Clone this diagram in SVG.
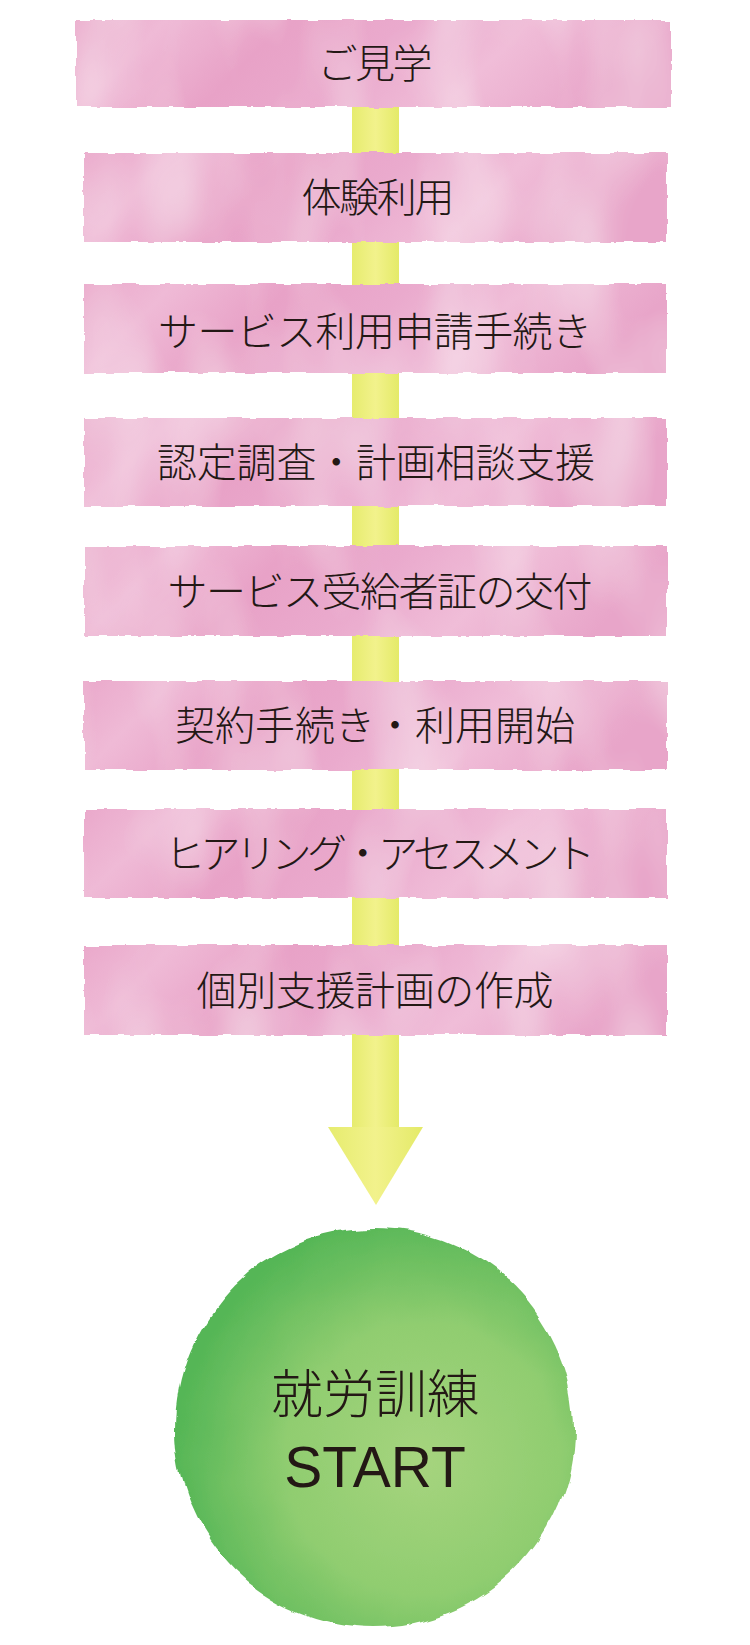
<svg xmlns="http://www.w3.org/2000/svg" width="750" height="1645" viewBox="0 0 750 1645">
<style>
.lbl{font-family:"Noto Sans CJK JP","Noto Sans",sans-serif;font-size:40px;font-weight:300;fill:#231815;text-anchor:middle}
.big{font-family:"Noto Sans CJK JP","Liberation Sans",sans-serif;font-weight:300;fill:#231815;text-anchor:middle}
.ban{fill:url(#pink)}
</style>
<defs>
<linearGradient id="pink" x1="0" y1="0" x2="1" y2="0.15">
<stop offset="0" stop-color="#eaa9cb"/>
<stop offset="0.15" stop-color="#efbad6"/>
<stop offset="0.35" stop-color="#e8a2c7"/>
<stop offset="0.55" stop-color="#eaaacd"/>
<stop offset="0.75" stop-color="#f0bdd8"/>
<stop offset="1" stop-color="#e8a5c9"/>
</linearGradient>
<linearGradient id="yel" x1="0" y1="0" x2="1" y2="0">
<stop offset="0" stop-color="#e6ec6e"/>
<stop offset="0.5" stop-color="#f2f28c"/>
<stop offset="1" stop-color="#e4ea68"/>
</linearGradient>
<radialGradient id="grn" cx="0.62" cy="0.58" r="0.62">
<stop offset="0" stop-color="#a6d47e"/>
<stop offset="0.55" stop-color="#90cd70"/>
<stop offset="1" stop-color="#55b656"/>
</radialGradient>
<filter id="rough" x="-5%" y="-20%" width="110%" height="140%">
<feTurbulence type="fractalNoise" baseFrequency="0.05" numOctaves="3" seed="3" result="n"/>
<feDisplacementMap in="SourceGraphic" in2="n" scale="5" xChannelSelector="R" yChannelSelector="G" result="d"/>
<feTurbulence type="fractalNoise" baseFrequency="0.014 0.006" numOctaves="2" seed="11" result="t"/>
<feColorMatrix in="t" type="matrix" values="0 0 0 0 1  0 0 0 0 1  0 0 0 0 1  0 0 0 0.7 -0.28" result="w"/>
<feComposite in="w" in2="d" operator="in" result="wi"/>
<feMerge><feMergeNode in="d"/><feMergeNode in="wi"/></feMerge>
</filter>
<filter id="rough2" x="-10%" y="-10%" width="120%" height="120%">
<feTurbulence type="fractalNoise" baseFrequency="0.02" numOctaves="3" seed="7" result="n"/>
<feDisplacementMap in="SourceGraphic" in2="n" scale="12" xChannelSelector="R" yChannelSelector="G"/>
</filter>
</defs>
<rect width="750" height="1645" fill="#ffffff"/>
<g id="connectors">
<rect x="352" y="100" width="47" height="1030" fill="url(#yel)"/>
<polygon points="328,1127 423,1127 376,1205" fill="url(#yel)"/>
</g>
<g id="n1"><rect class="ban" x="76" y="20" width="595" height="87" filter="url(#rough)"/><text class="lbl" x="375" y="78" textLength="115">ご見学</text></g>
<g id="n2"><rect class="ban" x="84" y="153" width="583" height="89" filter="url(#rough)"/><text class="lbl" x="378" y="212" textLength="153">体験利用</text></g>
<g id="n3"><rect class="ban" x="84" y="284" width="582" height="89" filter="url(#rough)"/><text class="lbl" x="375" y="346" textLength="434">サービス利用申請手続き</text></g>
<g id="n4"><rect class="ban" x="84" y="418" width="583" height="88" filter="url(#rough)"/><text class="lbl" x="376" y="477" textLength="438">認定調査・計画相談支援</text></g>
<g id="n5"><rect class="ban" x="84" y="546" width="583" height="90" filter="url(#rough)"/><text class="lbl" x="380" y="606" textLength="425">サービス受給者証の交付</text></g>
<g id="n6"><rect class="ban" x="84" y="681" width="583" height="89" filter="url(#rough)"/><text class="lbl" x="375" y="740" textLength="400">契約手続き・利用開始</text></g>
<g id="n7"><rect class="ban" x="84" y="809" width="583" height="89" filter="url(#rough)"/><text class="lbl" x="380" y="868" textLength="430">ヒアリング・アセスメント</text></g>
<g id="n8"><rect class="ban" x="84" y="945" width="583" height="90" filter="url(#rough)"/><text class="lbl" x="375" y="1005" textLength="357">個別支援計画の作成</text></g>
<g id="n9"><circle cx="375" cy="1428" r="199" fill="url(#grn)" filter="url(#rough2)"/>
<text class="big" x="375" y="1413" font-size="52">就労訓練</text>
<text class="big" x="375" y="1487" font-size="57" style="font-family:'Liberation Sans',sans-serif;font-weight:400">START</text></g>
</svg>
